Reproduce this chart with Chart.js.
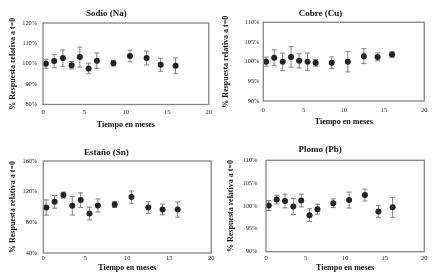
<!DOCTYPE html>
<html>
<head>
<meta charset="utf-8">
<script src="https://cdn.jsdelivr.net/npm/chart.js@4/dist/chart.umd.min.js"></script>
<style>
    body { margin: 0; background: #fff; }
    .panel { position: absolute; }
</style>
</head>
<body>
<div class="panel" style="left:0;top:0"><canvas id="sodio" width="216" height="140"></canvas></div>
<div class="panel" style="left:216px;top:0"><canvas id="cobre" width="217" height="140"></canvas></div>
<div class="panel" style="left:0;top:140px"><canvas id="estano" width="216" height="140"></canvas></div>
<div class="panel" style="left:216px;top:140px"><canvas id="plomo" width="217" height="140"></canvas></div>
<script>
// tiempo en meses (compartido)
const meses = [0.35, 1.35, 2.4, 3.45, 4.45, 5.5, 6.5, 8.5, 10.5, 12.5, 14.2, 16.0];

const sodioValores = [100.0, 101.3, 102.8, 99.3, 103.3, 97.7, 101.5, 100.3, 103.8, 102.8, 99.5, 99.0];
const sodioErrores = [2.2, 3.3, 4.0, 1.8, 4.9, 2.6, 3.8, 1.4, 2.9, 3.4, 3.2, 3.9];

const cobreValores = [100.0, 101.0, 100.0, 101.2, 100.2, 100.0, 99.7, 99.7, 100.0, 101.4, 101.2, 101.8];
const cobreErrores = [1.15, 2.0, 2.2, 2.6, 1.8, 2.2, 0.85, 1.5, 2.6, 1.9, 1.0, 0.7];

const estanoValores = [99.3, 106.8, 115.5, 101.5, 109.0, 91.5, 102.0, 103.3, 112.9, 99.3, 96.7, 96.7];
const estanoErrores = [10, 8.3, 4, 12, 9.4, 8.3, 8.5, 4, 8, 7.6, 7, 10];

const plomoValores = [100.1, 101.4, 101.1, 99.9, 101.2, 98.0, 99.3, 100.6, 101.3, 102.4, 98.8, 99.7];
const plomoErrores = [1.1, 0.95, 1.5, 1.75, 1.4, 1.4, 1.1, 0.95, 1.75, 1.3, 1.3, 2.2];

const xTicks = [0, 5, 10, 15, 20];

const FUENTE = "'Liberation Serif', 'Times New Roman', serif";

// barras de error y marco del área de trazado
const barrasError = {
    id: 'barrasError',
    beforeDatasetsDraw(chart) {
        const ctx = chart.ctx;
        const xs = chart.scales.x, ys = chart.scales.y;
        ctx.save();
        ctx.strokeStyle = '#808080';
        ctx.lineWidth = 1;
        chart.data.datasets.forEach(ds => {
            ds.data.forEach((p, i) => {
                const e = ds.errores[i];
                const px = xs.getPixelForValue(p.x);
                const y1 = ys.getPixelForValue(p.y + e);
                const y2 = ys.getPixelForValue(p.y - e);
                ctx.beginPath();
                ctx.moveTo(px, y1); ctx.lineTo(px, y2);
                ctx.moveTo(px - 2.5, y1); ctx.lineTo(px + 2.5, y1);
                ctx.moveTo(px - 2.5, y2); ctx.lineTo(px + 2.5, y2);
                ctx.stroke();
            });
        });
        ctx.restore();
    },
    afterDraw(chart) {
        const a = chart.chartArea;
        const ctx = chart.ctx;
        ctx.save();
        ctx.strokeStyle = '#858585';
        ctx.lineWidth = 1.3;
        ctx.strokeRect(a.left, a.top, a.right - a.left, a.bottom - a.top);
        ctx.restore();
    }
};

function crearPanel(id, titulo, valores, errores, yMin, yMax, yPaso, l) {
    const puntos = meses.map((m, i) => ({ x: m, y: valores[i] }));
    return new Chart(document.getElementById(id), {
        type: 'scatter',
        data: {
            datasets: [{
                data: puntos,
                errores: errores,
                backgroundColor: '#222222',
                borderWidth: 0,
                pointRadius: 3,
                pointHoverRadius: 3,
            }],
        },
        options: {
            responsive: false,
            animation: false,
            layout: { padding: { left: 0, top: 0, bottom: 0, right: l.padRight } },
            plugins: {
                legend: { display: false },
                tooltip: { enabled: false },
                title: {
                    display: true,
                    text: titulo,
                    color: '#111',
                    font: { family: FUENTE, size: 9, weight: 'bold' },
                    padding: { top: l.tTop, bottom: l.tBottom },
                },
            },
            scales: {
                x: {
                    type: 'linear',
                    min: 0,
                    max: 20,
                    afterBuildTicks: s => { s.ticks = xTicks.map(v => ({ value: v })); },
                    grid: { display: false, drawTicks: false },
                    border: { display: false },
                    ticks: { color: '#222', font: { family: FUENTE, size: 6.5 }, padding: l.xTickPad, maxRotation: 0 },
                    title: {
                        display: true,
                        text: 'Tiempo en meses',
                        color: '#111',
                        font: { family: FUENTE, size: 8, weight: 'bold' },
                        padding: { top: 0, bottom: l.xTitlePad },
                    },
                    afterFit: s => { s.height = l.xHeight; },
                },
                y: {
                    min: yMin,
                    max: yMax,
                    grid: { display: false, drawTicks: false },
                    border: { display: false },
                    ticks: {
                        stepSize: yPaso,
                        color: '#222',
                        font: { family: FUENTE, size: 6.3 },
                        padding: l.yTickPad,
                        callback: v => v + '%',
                    },
                    title: {
                        display: true,
                        text: '% Respuesta relativa a t=0',
                        color: '#111',
                        font: { family: FUENTE, size: 8, weight: 'bold' },
                        padding: { top: l.yTitlePad, bottom: 0 },
                    },
                    afterFit: s => { s.width = l.yWidth; },
                },
            },
        },
        plugins: [barrasError],
    });
}

crearPanel('sodio', 'Sodio (Na)', sodioValores, sodioErrores, 80, 120, 10,
    { padRight: 3.3, tTop: 8.6, tBottom: 3.6, yWidth: 43, yTickPad: 6, yTitlePad: 8, xHeight: 35.5, xTickPad: 4, xTitlePad: 10 });
crearPanel('cobre', 'Cobre (Cu)', cobreValores, cobreErrores, 90, 110, 5,
    { padRight: 8, tTop: 7.9, tBottom: 3.6, yWidth: 47.3, yTickPad: 4, yTitlePad: 5, xHeight: 39, xTickPad: 5.5, xTitlePad: 13 });
crearPanel('estano', 'Estaño (Sn)', estanoValores, estanoErrores, 40, 160, 40,
    { padRight: 3.3, tTop: 7.3, tBottom: 2.9, yWidth: 43.3, yTickPad: 6, yTitlePad: 8, xHeight: 27, xTickPad: 1.5, xTitlePad: 7 });
crearPanel('plomo', 'Plomo (Pb)', plomoValores, plomoErrores, 90, 110, 5,
    { padRight: 8.7, tTop: 4.6, tBottom: 4.9, yWidth: 50, yTickPad: 8.5, yTitlePad: 10, xHeight: 28.3, xTickPad: 3, xTitlePad: 7.5 });
</script>
</body>
</html>
